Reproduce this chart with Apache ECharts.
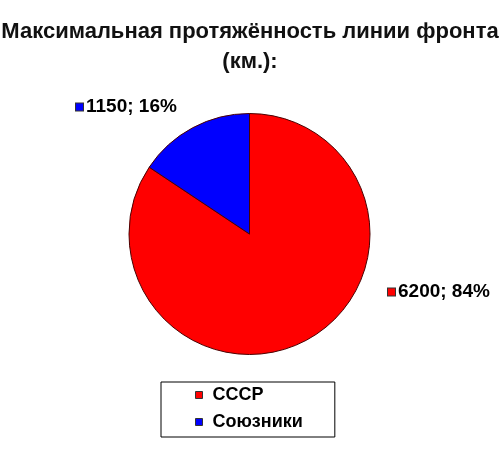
<!DOCTYPE html>
<html lang="ru">
<head>
  <meta charset="UTF-8">
  <title>Протяжённость линии фронта</title>
  <script src="https://cdn.jsdelivr.net/npm/echarts@6/dist/echarts.min.js"></script>
  <style>
    * {margin: 0; padding: 0;}
    html, body {width: 100%; height: 100%; background: #fff; overflow: hidden;}
    #chart {width: 500px; height: 457px;}
  </style>
</head>
<body>
  <div id="chart"></div>
<script>
var categories = ['СССР', 'Союзники']
var values = [6200, 1150]
var colors = ['#ff0000', '#0000ff']

// where each slice label sits (left edge of marker, vertical middle)
var labelPos = [[388, 292], [76, 107]]

window.onload = function () {
  var data = categories.map(function (name, i) {
    return {name: name, value: values[i], itemStyle: {color: colors[i]}}
  })
  var font = '"Liberation Sans", Arial, sans-serif'

  var option = {
    animation: false,
    title: {
      text: 'Максимальная протяжённость линии фронта\n(км.):',
      left: 'center',
      top: 12,
      textStyle: {
        fontFamily: font,
        fontWeight: 'bold',
        fontSize: 22,
        lineHeight: 30,
        color: '#111'
      }
    },
    legend: {
      orient: 'vertical',
      left: 161,
      top: 382,
      padding: [3, 32, 5, 34],
      itemGap: 7,
      itemWidth: 7,
      itemHeight: 7,
      icon: 'rect',
      borderColor: '#000',
      borderWidth: 1,
      itemStyle: {borderColor: '#333', borderWidth: 1},
      textStyle: {
        fontFamily: font,
        fontWeight: 'bold',
        fontSize: 18,
        lineHeight: 20,
        color: '#000',
        padding: [0, 0, 0, 5]
      },
      data: categories
    },
    series: [{
      type: 'pie',
      center: [249.5, 234],
      radius: 120.5,
      startAngle: 90,
      clockwise: true,
      percentPrecision: 0,
      itemStyle: {borderColor: '#4a0000', borderWidth: 1},
      emphasis: {disabled: true},
      labelLine: {show: false},
      label: {
        show: true,
        position: 'outside',
        formatter: function (p) {
          return '{m|}{v|' + p.value + '; ' + Math.round(p.percent) + '%}'
        },
        rich: {
          m: {width: 7, height: 7, borderColor: '#333', borderWidth: 1},
          v: {fontFamily: font, fontWeight: 'bold', fontSize: 19, color: '#000', padding: [0, 0, 0, 3]}
        }
      },
      labelLayout: function (params) {
        var p = labelPos[params.dataIndex]
        return {x: p[0], y: p[1], align: 'left', verticalAlign: 'middle'}
      },
      data: data.map(function (d, i) {
        d.label = {rich: {m: {backgroundColor: colors[i]}}}
        return d
      })
    }]
  }
  var chart = echarts.init(document.getElementById('chart'))
  chart.setOption(option)
}
</script>
</body>
</html>
